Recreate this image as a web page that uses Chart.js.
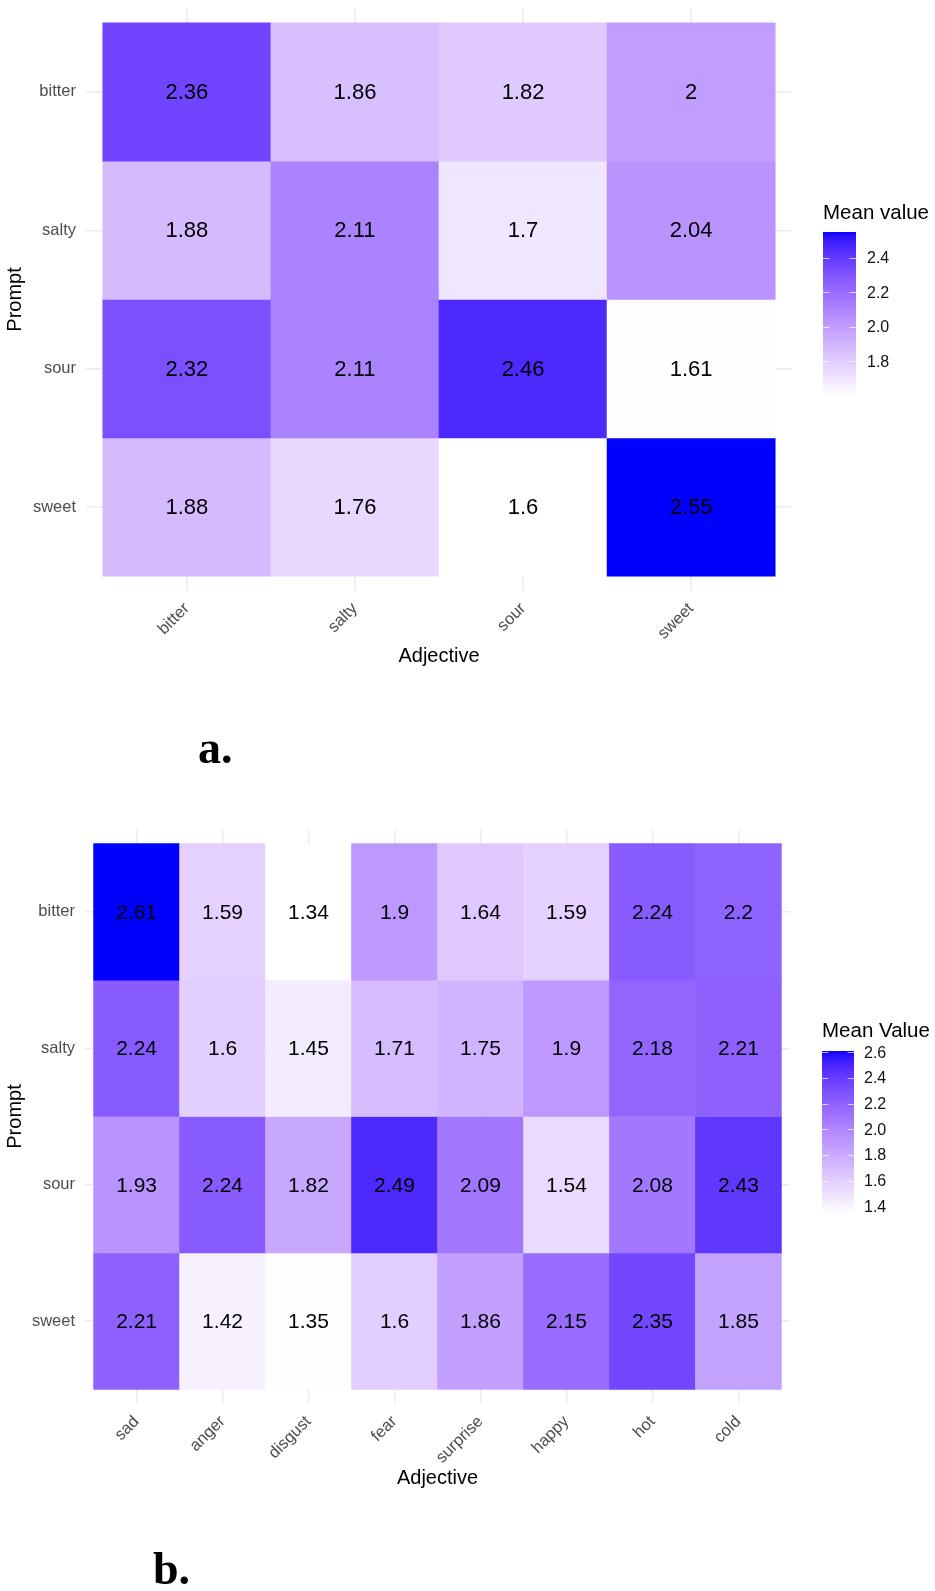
<!DOCTYPE html>
<html><head><meta charset="utf-8">
<script src="https://cdn.jsdelivr.net/npm/chart.js@4.4.0/dist/chart.umd.min.js"></script>
<style>
html,body{margin:0;padding:0;background:#fff;}
body{width:935px;height:1591px;position:relative;overflow:hidden;}
canvas{position:absolute;left:0;}
#ca{top:-11px;}
#cb{top:790px;}
</style></head><body>
<canvas id="ca" width="935" height="801"></canvas>
<canvas id="cb" width="935" height="801"></canvas>
<script>
// ---------- Data: panel a ----------
const promptsA = ['bitter', 'salty', 'sour', 'sweet'];
const adjectivesA = ['bitter', 'salty', 'sour', 'sweet'];
const a_bitter = [2.36, 1.86, 1.82, 2];
const a_salty  = [1.88, 2.11, 1.7, 2.04];
const a_sour   = [2.32, 2.11, 2.46, 1.61];
const a_sweet  = [1.88, 1.76, 1.6, 2.55];
const legendTicksA = [1.8, 2.0, 2.2, 2.4];

// ---------- Data: panel b ----------
const promptsB = ['bitter', 'salty', 'sour', 'sweet'];
const adjectivesB = ['sad', 'anger', 'disgust', 'fear', 'surprise', 'happy', 'hot', 'cold'];
const b_bitter = [2.61, 1.59, 1.34, 1.9, 1.64, 1.59, 2.24, 2.2];
const b_salty  = [2.24, 1.6, 1.45, 1.71, 1.75, 1.9, 2.18, 2.21];
const b_sour   = [1.93, 2.24, 1.82, 2.49, 2.09, 1.54, 2.08, 2.43];
const b_sweet  = [2.21, 1.42, 1.35, 1.6, 1.86, 2.15, 2.35, 1.85];
const legendTicksB = [1.4, 1.6, 1.8, 2.0, 2.2, 2.4, 2.6];

// ---------- Colour scale (white -> blue, Lab interpolation like ggplot) ----------
function toLin(c){c/=255;return c<=0.04045?c/12.92:Math.pow((c+0.055)/1.055,2.4);}
function toSrgb(c){const v=c<=0.0031308?12.92*c:1.055*Math.pow(Math.max(c,0),1/2.4)-0.055;return Math.round(Math.max(0,Math.min(1,v))*255);}
const Xn=0.95047,Yn=1.0,Zn=1.08883;
function fL(t){return t>216/24389?Math.cbrt(t):(24389/27*t+16)/116;}
function fInv(t){const t3=t*t*t;return t3>216/24389?t3:(116*t-16)/(24389/27);}
function rgb2lab(rgb){
  const R=toLin(rgb[0]),G=toLin(rgb[1]),B=toLin(rgb[2]);
  const X=0.4124564*R+0.3575761*G+0.1804375*B;
  const Y=0.2126729*R+0.7151522*G+0.0721750*B;
  const Z=0.0193339*R+0.1191920*G+0.9503041*B;
  const fx=fL(X/Xn),fy=fL(Y/Yn),fz=fL(Z/Zn);
  return [116*fy-16,500*(fx-fy),200*(fy-fz)];
}
function lab2rgb(lab){
  const fy=(lab[0]+16)/116,fx=fy+lab[1]/500,fz=fy-lab[2]/200;
  const X=Xn*fInv(fx),Y=Yn*fInv(fy),Z=Zn*fInv(fz);
  const R= 3.2404542*X-1.5371385*Y-0.4985314*Z;
  const G=-0.9692660*X+1.8760108*Y+0.0415560*Z;
  const B= 0.0556434*X-0.2040259*Y+1.0572252*Z;
  return [toSrgb(R),toSrgb(G),toSrgb(B)];
}
const LAB_LOW = rgb2lab([255,255,255]);
const LAB_HIGH = rgb2lab([0,0,255]);
function colorFor(v,min,max){
  const t=Math.max(0,Math.min(1,(v-min)/(max-min)));
  const lab=[0,1,2].map(i=>LAB_LOW[i]+(LAB_HIGH[i]-LAB_LOW[i])*t);
  const c=lab2rgb(lab);
  return 'rgb('+c[0]+','+c[1]+','+c[2]+')';
}

Chart.defaults.font.family = "'Liberation Sans', Arial, Helvetica, sans-serif";

// ---------- Plugins ----------
const cellLabels = {
  id: 'cellLabels',
  afterDatasetsDraw(chart, args, o) {
    const ctx = chart.ctx;
    ctx.save();
    ctx.fillStyle = '#000';
    ctx.font = o.size + "px 'Liberation Sans', Arial, sans-serif";
    ctx.textAlign = 'center';
    ctx.textBaseline = 'middle';
    chart.data.datasets.forEach((ds, di) => {
      const meta = chart.getDatasetMeta(di);
      meta.data.forEach((el, i) => {
        const raw = ds.data[i];
        ctx.fillText(String(raw.v), el.x, (el.y + el.base) / 2 + 1);
      });
    });
    ctx.restore();
  }
};

const colorbar = {
  id: 'colorbar',
  afterDraw(chart, args, o) {
    const ctx = chart.ctx;
    const {min, max, left, width, top, bottom} = o;
    const yOf = v => bottom - (v - min) / (max - min) * (bottom - top);
    ctx.save();
    const n = Math.round(bottom - top);
    for (let k = 0; k < n; k++) {
      const v = min + (k + 0.5) / n * (max - min);
      ctx.fillStyle = colorFor(v, min, max);
      ctx.fillRect(left, bottom - k - 1, width, 1.2);
    }
    ctx.strokeStyle = 'rgba(255,255,255,0.7)';
    ctx.lineWidth = 1;
    ctx.fillStyle = '#111';
    ctx.font = o.labelSize + "px 'Liberation Sans', Arial, sans-serif";
    ctx.textAlign = 'left';
    ctx.textBaseline = 'middle';
    o.breaks.forEach(b => {
      const yy = Math.round(yOf(b)) + 0.5;
      ctx.beginPath();
      ctx.moveTo(left, yy); ctx.lineTo(left + width * 0.2, yy);
      ctx.moveTo(left + width * 0.8, yy); ctx.lineTo(left + width, yy);
      ctx.stroke();
      ctx.fillText(b.toFixed(1), o.labelX, yOf(b) + 1);
    });
    ctx.fillStyle = '#000';
    ctx.textBaseline = 'alphabetic';
    ctx.font = o.titleSize + "px 'Liberation Sans', Arial, sans-serif";
    ctx.fillText(o.title, left, o.titleBaseline);
    ctx.font = "bold " + o.tagSize + "px 'Liberation Serif', 'Times New Roman', serif";
    ctx.fillText(o.tag, o.tagX, o.tagBaseline);
    ctx.restore();
  }
};

function makeHeatmap(id, prompts, adjectives, rows, breaks, cfg) {
  const all = rows.flat();
  const min = Math.min(...all), max = Math.max(...all);
  const datasets = rows.map((vals, r) => ({
    label: prompts[r],
    data: vals.map((v, c) => ({x: c, y: [r - 0.5, r + 0.5], v: v})),
    backgroundColor: vals.map(v => colorFor(v, min, max)),
    borderWidth: 0,
    borderSkipped: false,
    barPercentage: 1,
    categoryPercentage: 1,
    grouped: false
  }));
  return new Chart(document.getElementById(id), {
    type: 'bar',
    data: {datasets},
    options: {
      responsive: false,
      animation: false,
      layout: {autoPadding: false, padding: {left: 0, top: cfg.top, right: cfg.right, bottom: cfg.bottom}},
      scales: {
        x: {
          type: 'linear', min: -0.6, max: adjectives.length - 0.4, offset: false,
          afterBuildTicks: s => { s.ticks = adjectives.map((_, i) => ({value: i})); },
          afterFit: s => { s.height = cfg.xHeight; },
          ticks: {callback: v => adjectives[v], autoSkip: false, minRotation: 45, maxRotation: 45,
                  color: '#4D4D4D', font: {size: 16.5}, padding: cfg.xPad},
          grid: {color: '#EBEBEB', lineWidth: 1.5, drawTicks: false, offset: false},
          border: {display: false},
          title: {display: true, text: 'Adjective', color: '#000', font: {size: 20}, padding: {top: 0, bottom: 0}}
        },
        y: {
          type: 'linear', reverse: true, min: -0.6, max: prompts.length - 0.4, offset: false,
          afterBuildTicks: s => { s.ticks = prompts.map((_, i) => ({value: i})); },
          afterFit: s => { s.width = cfg.yWidth; },
          ticks: {callback: v => prompts[v], color: '#4D4D4D', font: {size: 16.5}, padding: 10},
          grid: {color: '#EBEBEB', lineWidth: 1.5, drawTicks: false, offset: false},
          border: {display: false},
          title: {display: true, text: 'Prompt', color: '#000', font: {size: 20}, padding: {top: 3, bottom: 0}}
        }
      },
      plugins: {
        legend: {display: false},
        tooltip: {enabled: false},
        cellLabels: {size: cfg.cellSize},
        colorbar: Object.assign({min, max, breaks}, cfg.bar)
      }
    },
    plugins: [cellLabels, colorbar]
  });
}

// panel a canvas is shifted up by 11px (page y = canvas y - 11)
makeHeatmap('ca', promptsA, adjectivesA, [a_bitter, a_salty, a_sour, a_sweet], legendTicksA, {
  top: 16.5, right: 143, bottom: 122, xHeight: 78, yWidth: 86, cellSize: 22, xPad: 9,
  bar: {left: 823, width: 33, top: 243, bottom: 407, labelX: 867, labelSize: 16,
        title: 'Mean value', titleSize: 20.5, titleBaseline: 230,
        tag: 'a.', tagSize: 46, tagX: 198, tagBaseline: 774}
});

makeHeatmap('cb', promptsB, adjectivesB, [b_bitter, b_salty, b_sour, b_sweet], legendTicksB, {
  top: 40, right: 145, bottom: 101, xHeight: 87, yWidth: 85, cellSize: 21, xPad: 9,
  bar: {left: 822, width: 32, top: 261, bottom: 424, labelX: 864, labelSize: 16,
        title: 'Mean Value', titleSize: 20.5, titleBaseline: 247,
        tag: 'b.', tagSize: 46, tagX: 153, tagBaseline: 794}
});
</script>
</body></html>
